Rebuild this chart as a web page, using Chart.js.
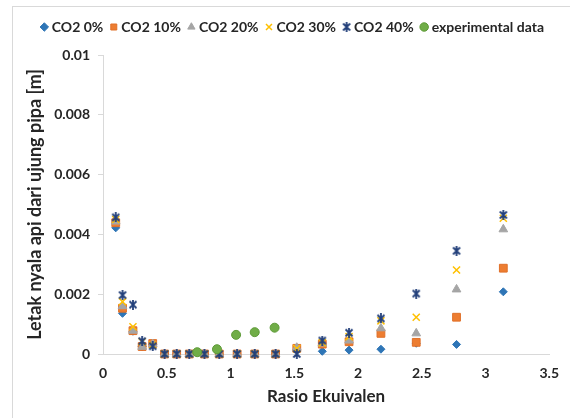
<!DOCTYPE html>
<html>
<head>
<meta charset="utf-8">
<script src="https://cdn.jsdelivr.net/npm/chart.js@4"></script>
<style>
  html, body { margin: 0; padding: 0; background: #fff; overflow: hidden; }
  #frame { position: absolute; left: 12px; top: 6px; width: 620px; height: 460px; border: 1px solid #d9d9d9; }
  #myChart { position: absolute; left: 0; top: 0; }
</style>
</head>
<body>
<div id="frame"></div>
<canvas id="myChart" width="570" height="418"></canvas>
<script>
// equivalence ratio (x) shared by the simulated series
const ratio = [0.10, 0.153, 0.235, 0.307, 0.39, 0.483, 0.578, 0.677, 0.796, 0.912, 1.052, 1.19, 1.354, 1.52, 1.72, 1.93, 2.18, 2.457, 2.773, 3.14]
const co2_0 = [0.00422, 0.00136, 0.00076, 0.00025, 0.00032, 0, 0, 0, 0, 0, 0, 0, 0, 0.00016, 0.00009, 0.00013, 0.00016, 0.00036, 0.00032, 0.00208]
const co2_10 = [0.00439, 0.00153, 0.00078, 0.00025, 0.00035, 0, 0, 0, 0, 0, 0, 0, 0, 0.00019, 0.00033, 0.00041, 0.00069, 0.00039, 0.00123, 0.00287]
const co2_20 = [0.00443, 0.0016, 0.00078, 0.00024, 0.00033, 0, 0, 0, 0, 0, 0, 0, 0, 0.00021, 0.00035, 0.00045, 0.00086, 0.00069, 0.00216, 0.00417]
const co2_30 = [0.0045, 0.00175, 0.00091, 0.00041, 0.0003, 0, 0, 0, 0, 0, 0, 0, 0, 0.00018, 0.00038, 0.00058, 0.00111, 0.00123, 0.00281, 0.00454]
const co2_40 = [0.00457, 0.00197, 0.00165, 0.00043, 0.00026, 0, 0, 0, 0, 0, 0, 0, 0, 0, 0.00045, 0.00071, 0.00119, 0.00202, 0.00345, 0.00465]
const expRatio = [0.739, 0.894, 1.044, 1.19, 1.346]
const expData = [0.00006, 0.00016, 0.00064, 0.00073, 0.00088]

const seriesNames = ['CO2 0%', 'CO2 10%', 'CO2 20%', 'CO2 30%', 'CO2 40%', 'experimental data']
const xTickLabels = ['0', '0.5', '1', '1.5', '2', '2.5', '3', '3.5']
const yTickLabels = ['0', '0.002', '0.004', '0.006', '0.008', '0.01']

const toPoints = (xs, ys) => xs.map((x, i) => ({ x, y: ys[i] }))

Chart.defaults.font.family = 'Lato'
Chart.defaults.color = '#262626'

// asterisk marker (x with a vertical stroke), like the spreadsheet "star"
function starMarker(color) {
    const c = document.createElement('canvas')
    c.width = 10
    c.height = 10
    const g = c.getContext('2d')
    g.strokeStyle = color
    g.lineWidth = 1.8
    g.beginPath()
    g.moveTo(1.5, 1.5); g.lineTo(8.5, 8.5)
    g.moveTo(8.5, 1.5); g.lineTo(1.5, 8.5)
    g.moveTo(5, 0); g.lineTo(5, 10)
    g.stroke()
    return c
}

function makeSet(i, xs, ys, style) {
    return Object.assign({
        label: seriesNames[i],
        data: toPoints(xs, ys),
        order: 5 - i, // later series drawn on top
        clip: false,
        borderWidth: 1
    }, style)
}

const datasets = [
    makeSet(0, ratio, co2_0, { pointStyle: 'rectRot', pointRadius: 4, backgroundColor: '#2E75B6', borderColor: '#2E75B6' }),
    makeSet(1, ratio, co2_10, { pointStyle: 'rect', pointRadius: 5.5, backgroundColor: '#ED7D31', borderColor: '#E07028' }),
    makeSet(2, ratio, co2_20, { pointStyle: 'triangle', pointRadius: 5, backgroundColor: '#A5A5A5', borderColor: '#A5A5A5' }),
    makeSet(3, ratio, co2_30, { pointStyle: 'crossRot', pointRadius: 5, backgroundColor: '#FFC000', borderColor: '#FFC000', borderWidth: 1.5 }),
    makeSet(4, ratio, co2_40, { pointStyle: starMarker('#223F7A'), pointRadius: 5, backgroundColor: '#264478', borderColor: '#264478' }),
    makeSet(5, expRatio, expData, { pointStyle: 'circle', pointRadius: 4.5, backgroundColor: '#70AD47', borderColor: '#5E9A38' })
]

const ctx = document.getElementById('myChart')

new Chart(ctx, {
    type: 'scatter',
    data: { datasets },
    options: {
        responsive: false,
        animation: false,
        devicePixelRatio: 1,
        layout: { padding: { top: 10, left: 0, right: 16, bottom: 0 } },
        plugins: {
            legend: {
                position: 'top',
                align: 'end',
                labels: {
                    usePointStyle: true,
                    boxWidth: 1,
                    boxHeight: 6,
                    padding: 10,
                    color: '#262626',
                    font: { size: 14, weight: 'bold' },
                    sort: (a, b) => a.datasetIndex - b.datasetIndex
                }
            },
            // empty spacer between legend and plot
            title: {
                display: true,
                text: '',
                weight: 500,
                padding: 0,
                font: { size: 11, lineHeight: 1 }
            },
            tooltip: { enabled: false }
        },
        scales: {
            x: {
                type: 'linear',
                min: 0,
                max: 3.5,
                afterFit: scale => { scale.height = 64 },
                afterBuildTicks: scale => { scale.ticks = xTickLabels.map((t, i) => ({ value: i * 0.5 })) },
                ticks: {
                    padding: 11,
                    font: { size: 14, weight: 'bold' },
                    color: '#262626',
                    callback: (v, i) => xTickLabels[i]
                },
                grid: { display: false, drawTicks: false },
                border: { display: true, color: '#d9d9d9', width: 1 },
                title: {
                    display: true,
                    text: 'Rasio Ekuivalen',
                    font: { size: 17, weight: 'bold' },
                    color: '#262626',
                    padding: { top: 0, bottom: 11 }
                }
            },
            y: {
                min: 0,
                max: 0.01,
                afterFit: scale => { scale.width = 103 },
                afterBuildTicks: scale => { scale.ticks = yTickLabels.map((t, i) => ({ value: i * 0.002 })) },
                ticks: {
                    padding: 8,
                    font: { size: 14, weight: 'bold' },
                    color: '#262626',
                    callback: (v, i) => yTickLabels[i]
                },
                grid: { display: true, drawOnChartArea: false, drawTicks: true, tickLength: 5, color: '#d9d9d9' },
                border: { display: true, color: '#d9d9d9', width: 1 },
                title: {
                    display: true,
                    text: 'Letak nyala api dari ujung pipa [m]',
                    font: { size: 18, weight: 'bold' },
                    color: '#262626',
                    padding: { top: 24, bottom: 0 }
                }
            }
        }
    }
})
</script>
</body>
</html>
